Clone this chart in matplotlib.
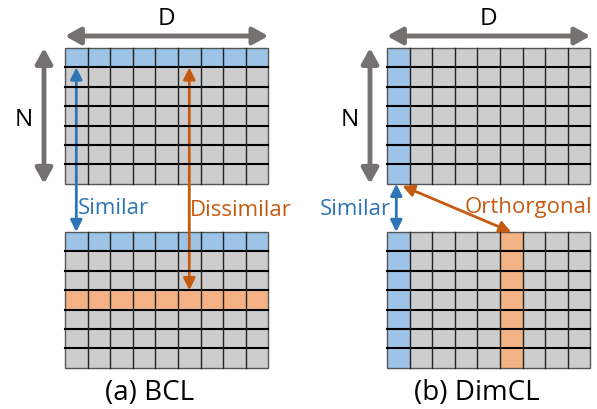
import matplotlib.pyplot as plt
from matplotlib.patches import Rectangle, FancyArrowPatch

plt.rcParams['font.family'] = ['Open Sans', 'DejaVu Sans']

# grid shape
n_rows = 7
n_cols = 9

# highlighted cells of each panel: (kind, index, colour)
bcl_top = [('row', 0, 'blue')]
bcl_bottom = [('row', 0, 'blue'), ('row', 3, 'orange')]
dim_top = [('col', 0, 'blue')]
dim_bottom = [('col', 0, 'blue'), ('col', 5, 'orange')]

captions = ['(a) BCL', '(b) DimCL']

fills = {'gray': '#cdcdcd', 'blue': '#9dc3e6', 'orange': '#f4b183'}
c_gray = '#767171'
c_blue = '#2e75b6'
c_orange = '#c55a11'

# layout in pixels
W, H = 597, 410
cw, ch = 22.6, 19.4
left_x, right_x = 65, 387
top_y, bot_y = 49, 233

fig = plt.figure(figsize=(W / 100, H / 100), dpi=100)
ax = fig.add_axes([0, 0, 1, 1])
ax.set_xlim(0, W)
ax.set_ylim(H, 0)
ax.axis('off')


def draw_grid(x0, y0, marks):
    for r in range(n_rows):
        for c in range(n_cols):
            col = 'gray'
            for kind, idx, colour in marks:
                if (kind == 'row' and r == idx) or (kind == 'col' and c == idx):
                    col = colour
            ax.add_patch(Rectangle((x0 + c * cw, y0 + r * ch), cw, ch,
                                   facecolor=fills[col], edgecolor='none'))
    for r in range(1, n_rows):
        ax.plot([x0, x0 + n_cols * cw], [y0 + r * ch] * 2, color='black', lw=1.5)
    for c in range(1, n_cols):
        ax.plot([x0 + c * cw] * 2, [y0, y0 + n_rows * ch], color='#222222', lw=1.0)
    ax.add_patch(Rectangle((x0, y0), n_cols * cw, n_rows * ch,
                           facecolor='none', edgecolor='#555555', lw=1.0))


def arrow(p, q, colour, lw, style):
    ax.add_patch(FancyArrowPatch(p, q, arrowstyle=style, color=colour, lw=lw,
                                 shrinkA=0, shrinkB=0, mutation_scale=1))


draw_grid(left_x, top_y, bcl_top)
draw_grid(left_x, bot_y, bcl_bottom)
draw_grid(right_x, top_y, dim_top)
draw_grid(right_x, bot_y, dim_bottom)

gw, gh = n_cols * cw, n_rows * ch
big = '<|-|>,head_length=9,head_width=5'
small = '<|-|>,head_length=7,head_width=3.5'

for x0, nx in [(left_x, 44), (right_x, 370)]:
    arrow((x0, 37), (x0 + gw, 37), c_gray, 3.5, big)
    arrow((nx, top_y), (nx, top_y + gh), c_gray, 3.5, big)
    ax.text(x0 + gw / 2, 25, 'D', fontsize=17.5, ha='center', va='baseline')
    ax.text(nx - 20, 126, 'N', fontsize=17.5, ha='center', va='baseline')

# (a) BCL arrows
xa = left_x + 0.5 * cw
xb = left_x + 5.5 * cw
arrow((xa, top_y + ch), (xa, bot_y), c_blue, 2, small)
arrow((xb, top_y + ch), (xb, bot_y + 3 * ch), c_orange, 2, small)
ax.text(xa + 2, 214, 'Similar', color=c_blue, fontsize=16, ha='left', va='baseline')
ax.text(xb + 1, 216, 'Dissimilar', color=c_orange, fontsize=16, ha='left', va='baseline')

# (b) DimCL arrows
xc = right_x + 0.5 * cw
xd = right_x + 5.5 * cw
arrow((xc - 2, top_y + gh), (xc - 2, bot_y), c_blue, 2, small)
arrow((xc + 4, top_y + gh + 2), (xd, bot_y), c_orange, 2, small)
ax.text(xc - 7, 215, 'Similar', color=c_blue, fontsize=16, ha='right', va='baseline')
ax.text(right_x + gw + 2, 213, 'Orthorgonal', color=c_orange, fontsize=16, ha='right', va='baseline')

ax.text(left_x + gw / 2 - 17, 400, captions[0], fontsize=20, ha='center', va='baseline')
ax.text(right_x + gw / 2 - 12, 400, captions[1], fontsize=20, ha='center', va='baseline')

fig.savefig('out.png', dpi=100)
